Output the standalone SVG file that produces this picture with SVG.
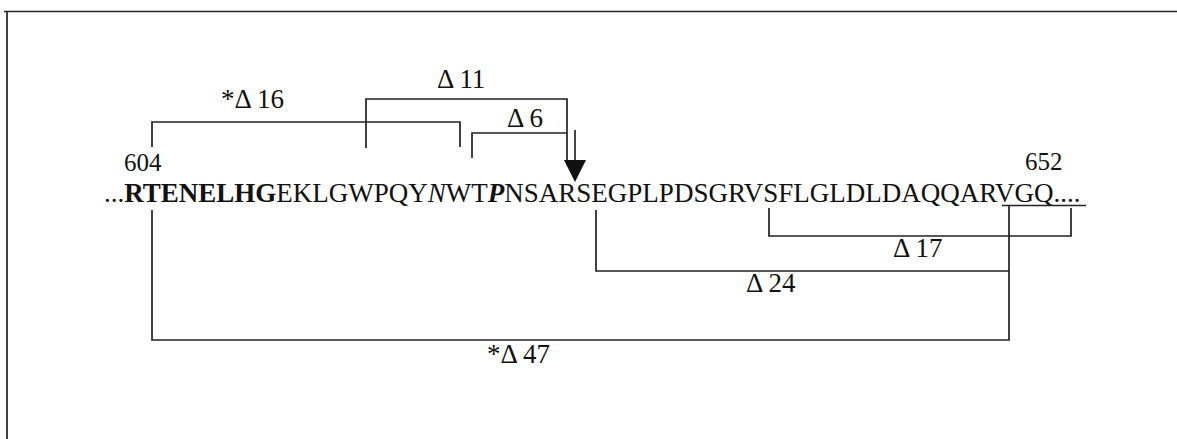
<svg xmlns="http://www.w3.org/2000/svg" width="1177" height="439" viewBox="0 0 1177 439">
<style>
.ln{stroke:#222;stroke-width:1.7;fill:none}
text{font-family:"Liberation Serif","Times New Roman","DejaVu Serif",serif;fill:#111}
.lbl{font-size:27px}
.num{font-size:25px}
.seq{font-size:27px}
</style>
<rect x="0" y="0" width="1177" height="439" fill="#fff"/>
<g id="frame">
<path class="ln" d="M4 11.5H1177M7 11.5V439" stroke-width="2"/>
</g>
<g id="sequence">
<text class="seq" x="104" y="202">...<tspan font-weight="bold">RTENELHG</tspan>EKLGWPQY<tspan font-style="italic">N</tspan>WT<tspan font-style="italic" font-weight="bold">P</tspan>NSARSEGPLPDSGRVSFLGLDLDAQQARVGQ....</text>
<line class="ln" x1="1002" y1="205.5" x2="1086" y2="205.5" stroke-width="1.3"/>
</g>
<g id="pos604"><text class="num" x="124" y="171">604</text></g>
<g id="pos652"><text class="num" x="1025" y="170">652</text></g>
<g id="d16"><text class="lbl" x="221" y="108">*Δ<tspan dx="5">16</tspan></text></g>
<g id="d11"><text class="lbl" x="437" y="88">Δ<tspan dx="5">11</tspan></text></g>
<g id="d6"><text class="lbl" x="507" y="127">Δ<tspan dx="5">6</tspan></text></g>
<g id="d17"><text class="lbl" x="893" y="257">Δ<tspan dx="5">17</tspan></text></g>
<g id="d24"><text class="lbl" x="746" y="292">Δ<tspan dx="5">24</tspan></text></g>
<g id="d47"><text class="lbl" x="487" y="363">*Δ<tspan dx="5">47</tspan></text></g>
<g id="connectors">
<path class="ln" d="M152 147V122H460V147"/>
<path class="ln" d="M366 148V99H567V165"/>
<path class="ln" d="M472 158V133H567"/>
<path class="ln" d="M575 130V162"/>
<polygon points="564,160 586,160 575,182" fill="#111"/>
<path class="ln" d="M769 208V236H1071V208"/>
<path class="ln" d="M596 210V271H1009"/>
<path class="ln" d="M1009 205V340H152V210"/>
</g>
</svg>
